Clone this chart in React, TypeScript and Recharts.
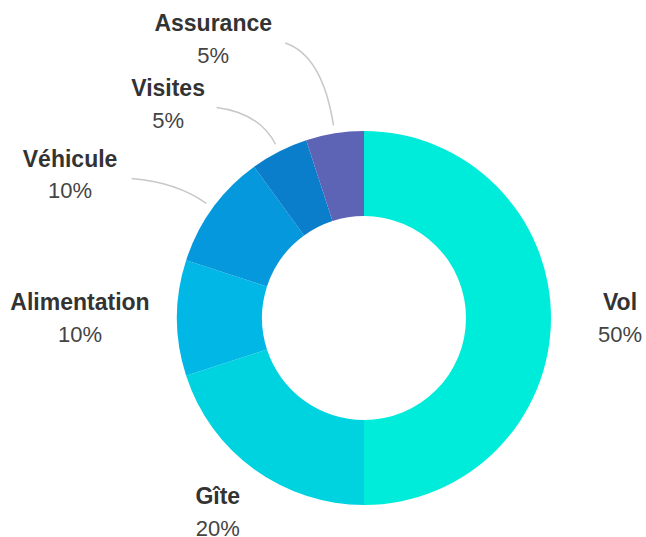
import { PieChart, Pie, Cell } from 'recharts'

const CATEGORIES = ['Vol', 'Gîte', 'Alimentation', 'Véhicule', 'Visites', 'Assurance']
const SHARES = [50, 20, 10, 10, 5, 5]
const COLORS = ['#00ECDA', '#00D3E0', '#00B7E5', '#0598DC', '#0A7ECB', '#5D63B5']

const data = CATEGORIES.map((name, i) => ({ name, value: SHARES[i] }))

// label placement relative to each slice (extra radius, extra angle in degrees)
const LABEL_POS = [
  { dr: 69, da: 0 },
  { dr: 56, da: -1 },
  { dr: 97, da: 0 },
  { dr: 140, da: 10 },
  { dr: 103, da: 15.5 },
  { dr: 130, da: 19.4 },
]
const LINE_END: ({ dr: number; da: number } | null)[] = [
  null,
  null,
  null,
  { dr: 84, da: 5 },
  { dr: 70, da: 8 },
  { dr: 99, da: 7 },
]

const RAD = Math.PI / 180
const polar = (cx: number, cy: number, r: number, deg: number) => ({
  x: cx + r * Math.cos(-deg * RAD),
  y: cy + r * Math.sin(-deg * RAD),
})

function renderLabel(props: any) {
  const { cx, cy, midAngle, outerRadius, index, name, value } = props
  const pos = LABEL_POS[index]
  const p = polar(cx, cy, outerRadius + pos.dr, midAngle + pos.da)
  const end = LINE_END[index]
  let line = null
  if (end) {
    const s = polar(cx, cy, outerRadius + 8, midAngle)
    const e = polar(cx, cy, outerRadius + end.dr, midAngle + end.da)
    const dir = { x: Math.cos(-midAngle * RAD), y: Math.sin(-midAngle * RAD) }
    const k = ((s.y - e.y) / Math.abs(dir.y)) * 0.85
    const c = { x: s.x + dir.x * k, y: s.y + dir.y * k }
    line = (
      <path
        d={`M${s.x},${s.y} Q${c.x},${c.y} ${e.x},${e.y}`}
        stroke="#c8c8c8"
        strokeWidth={1.5}
        fill="none"
      />
    )
  }
  return (
    <g key={`lbl-${index}`}>
      {line}
      <text
        x={p.x}
        y={p.y - 16}
        textAnchor="middle"
        dominantBaseline="central"
        fontSize={23}
        fontWeight="bold"
        fill="#333"
      >
        {name}
      </text>
      <text
        x={p.x}
        y={p.y + 16}
        textAnchor="middle"
        dominantBaseline="central"
        fontSize={22}
        fill="#444"
      >
        {`${value}%`}
      </text>
    </g>
  )
}

export default function App() {
  return (
    <div
      style={{
        position: 'absolute',
        left: 0,
        top: 0,
        width: 646,
        height: 537,
        background: '#fff',
        fontFamily: '"Liberation Sans", Arial, sans-serif',
      }}
    >
      <PieChart width={646} height={537} margin={{ top: 0, right: 0, bottom: 0, left: 0 }}>
        <Pie
          data={data}
          dataKey="value"
          nameKey="name"
          cx={364}
          cy={318}
          innerRadius={102}
          outerRadius={187}
          startAngle={90}
          endAngle={-270}
          stroke="none"
          label={renderLabel}
          labelLine={false}
          isAnimationActive={false}
        >
          {data.map((d, i) => (
            <Cell key={d.name} fill={COLORS[i]} />
          ))}
        </Pie>
      </PieChart>
    </div>
  )
}
